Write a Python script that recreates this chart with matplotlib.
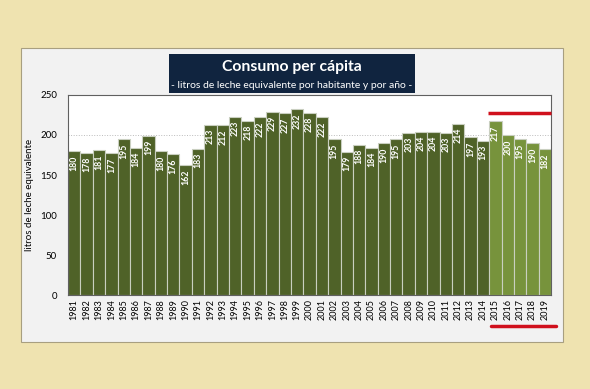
import matplotlib.pyplot as plt
from matplotlib.patches import Rectangle
from matplotlib.lines import Line2D

years = [str(y) for y in range(1981, 2020)]
consumo = [180, 178, 181, 177, 195, 184, 199, 180, 176, 162, 183, 213, 212,
           223, 218, 222, 229, 227, 232, 228, 222, 195, 179, 188, 184, 190,
           195, 203, 204, 204, 203, 214, 197, 193, 217, 200, 195, 190, 182]
highlight_from = '2015'
ref_level = 228

plt.rcParams['font.family'] = ['Lato', 'DejaVu Sans']

fig = plt.figure(figsize=(5.9, 3.89), dpi=100)
fig.patch.set_facecolor('#EFE3B0')

# grey panel
fig.patches.append(Rectangle((0.036, 0.121), 0.918, 0.756, transform=fig.transFigure,
                             facecolor='#F2F2F2', edgecolor='#A89F80', lw=0.8, zorder=-1))

ax = fig.add_axes([0.1153, 0.2416, 0.8187, 0.5142])
ax.set_facecolor('white')

colors = ['#77933C' if int(y) >= int(highlight_from) else '#4F6228' for y in years]
x = range(len(years))
bars = ax.bar(x, consumo, width=1.0, color=colors, edgecolor='#C9CFC0', linewidth=0.8, zorder=2)

for xi, v in zip(x, consumo):
    ax.annotate(str(v), (xi, v), xytext=(0, -3), textcoords='offset points',
                rotation=90, ha='center', va='top', color='white',
                fontsize=6.3, fontweight='bold', zorder=3)

ax.set_xlim(-0.5, len(years) - 0.5)
ax.set_ylim(0, 250)
ax.set_yticks(range(0, 251, 50))
ax.yaxis.grid(True, linestyle=':', color='#BBBBBB', lw=0.7, zorder=0)
ax.set_axisbelow(True)
ax.set_xticks(list(x))
ax.set_xticklabels(years, rotation=90, fontsize=6.5)
ax.tick_params(axis='y', labelsize=7, length=0, pad=8)
ax.tick_params(axis='x', length=0, pad=3)
ax.set_ylabel('litros de leche equivalente', fontsize=7, labelpad=4)
for s in ax.spines.values():
    s.set_color('#606060')
    s.set_linewidth(0.8)

# red reference line above recent years
ax.plot([33.4, len(years) - 0.5], [ref_level, ref_level], color='#D0101C', lw=2.5,
        solid_capstyle='butt', zorder=4, clip_on=False)

# red underline below recent years
fig.lines.append(Line2D([0.832, 0.942], [0.162, 0.162], transform=fig.transFigure,
                        color='#D0101C', lw=2.5, solid_capstyle='round'))

# title box
fig.patches.append(Rectangle((0.2864, 0.761), 0.417, 0.1, transform=fig.transFigure,
                             facecolor='#10243F', edgecolor='none', zorder=5))
fig.text(0.495, 0.828, 'Consumo per cápita', color='white', fontsize=11.3,
         fontweight='bold', ha='center', va='center', zorder=6)
fig.text(0.495, 0.781, '- litros de leche equivalente por habitante y por año -',
         color='white', fontsize=7.5, ha='center', va='center', zorder=6)

fig.savefig('out.png', dpi=100, facecolor=fig.get_facecolor())
